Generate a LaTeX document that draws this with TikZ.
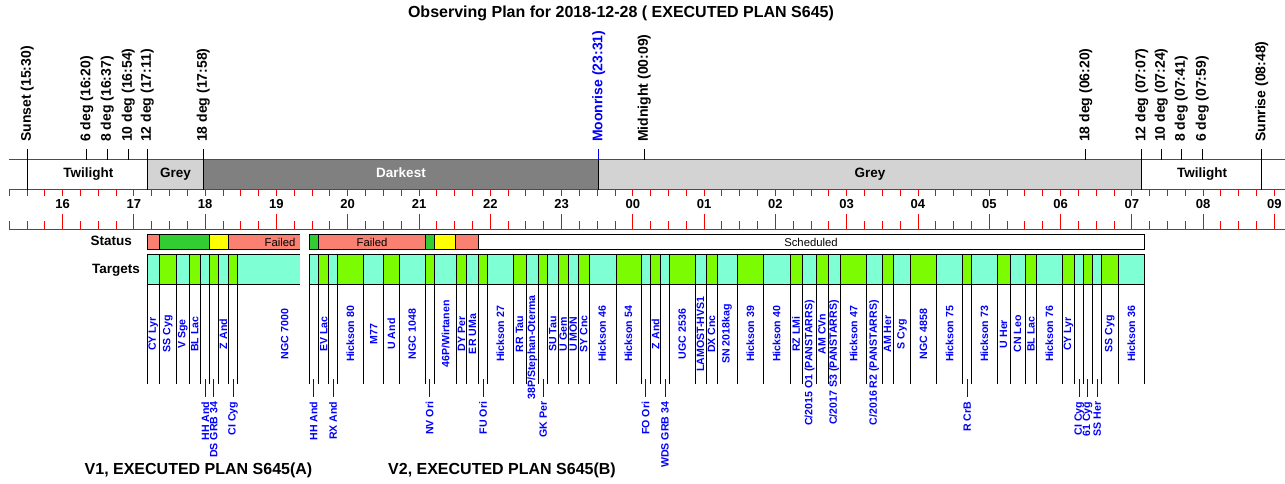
\documentclass[tikz,border=0pt]{standalone}
\usepackage{fontspec}
\setmainfont{Liberation Sans}
\definecolor{salm}{HTML}{FA8072}
\definecolor{lgr}{HTML}{32CD32}
\definecolor{yel}{HTML}{FFFF00}
\definecolor{aq}{HTML}{7FFFD4}
\definecolor{gr}{HTML}{7CFC00}
\definecolor{lgrey}{HTML}{D3D3D3}
\definecolor{dgrey}{HTML}{808080}
\begin{document}
\begin{tikzpicture}[x=1pt,y=-1pt,
  redl/.style={red, line width=0.9pt},
  blk/.style={black, line width=0.9pt},
  lead/.style={blue, line width=0.9pt},
  titlef/.style={inner sep=0pt, font=\bfseries\fontsize{16}{18}\selectfont},
  evt/.style={rotate=90, anchor=west, inner sep=0pt, font=\bfseries\fontsize{14}{15}\selectfont},
  bandlab/.style={inner sep=0pt, anchor=base, font=\bfseries\fontsize{13.5}{14}\selectfont},
  hourlab/.style={inner sep=0pt, anchor=base, font=\bfseries\fontsize{13}{14}\selectfont},
  rowlab/.style={inner sep=0pt, anchor=base east, font=\bfseries\fontsize{13.5}{14}\selectfont},
  stlab/.style={inner sep=0pt, anchor=base, font=\fontsize{11.3}{12}\selectfont},
  tgu/.style={rotate=90, inner sep=0pt, text=blue, font=\bfseries\fontsize{10.6}{11}\selectfont},
  tgl/.style={tgu, anchor=east}
]
\useasboundingbox (0,0) rectangle (1285,483);

% title
\node[titlef, anchor=base] (title) at (621,17.5) {Observing Plan for 2018-12-28 ( EXECUTED PLAN S645)};

% bands
\fill[lgrey] (147.3,159.5) rectangle (203.3,189.5);
\fill[dgrey] (203.3,159.5) rectangle (598.7,189.5);
\fill[lgrey] (598.7,159.5) rectangle (1141.7,189.5);
\node[bandlab] (tw1) at (88.3,177.7) {Twilight};
\node[bandlab] (gr1) at (175.5,177.7) {Grey};
\node[bandlab, text=white] (dk) at (401,177.7) {Darkest};
\node[bandlab] (gr2) at (870,177.7) {Grey};
\node[bandlab] (tw2) at (1202,177.7) {Twilight};

% ticks
\foreach \k in {0,...,71}{
  \pgfmathsetmacro{\xx}{62.6+71.28*(\k*0.25-0.75)}
  \pgfmathsetmacro{\yy}{ifthenelse(mod(\k,4)==3,214,221)}
  \draw[redl] (\xx,189.5) -- (\xx,195.5);
  \draw[redl] (\xx,229.5) -- (\xx,\yy);
}
\draw[redl] (9,159.5) -- (1285,159.5) (9,189.5) -- (1285,189.5) (9,229.5) -- (1285,229.5);

% hour labels
\foreach \h [count=\i from 0] in {16,17,18,19,20,21,22,23,00,01,02,03,04,05,06,07,08,09}
  \node[hourlab] (hr\i) at ({62.6+71.28*\i},208.3) {\h};

% events
\foreach \x/\ye/\txt [count=\i] in {27.3/189.5/{Sunset (15:30)}, 86.7/159.5/{6 deg (16:20)},
  107.3/159.5/{8 deg (16:37)}, 128.3/159.5/{10 deg (16:54)}, 147.3/189.5/{12 deg (17:11)},
  203.3/189.5/{18 deg (17:58)}, 644.3/159.5/{Midnight (00:09)}, 1085.7/159.5/{18 deg (06:20)},
  1141.7/189.5/{12 deg (07:07)}, 1161.3/159.5/{10 deg (07:24)}, 1181.3/159.5/{8 deg (07:41)},
  1202.3/159.5/{6 deg (07:59)}, 1261.7/189.5/{Sunrise (08:48)}}{
  \node[evt] (ev\i) at (\x,142) {\txt};
  \coordinate (eb\i) at (\x,\ye);
  \draw[blk] ([yshift=-7pt]ev\i.west) -- (eb\i);
}
\node[evt, text=blue] (moon) at (598.7,142) {Moonrise (23:31)};
\coordinate (mb) at (598.7,159.5);
\coordinate (mbb) at (598.7,189.5);
\draw[lead] ([yshift=-7pt]moon.west) -- (mb);
\draw[blk] (mb) -- (mbb);

% status row
\node[rowlab] (status) at (132,245) {Status};
\foreach \a/\b/\c in {147.3/159.3/salm, 159.3/209.3/lgr, 209.3/228.3/yel, 228.3/300/salm,
  309.3/318.7/lgr, 318.7/425.3/salm, 425.3/434.7/lgr, 434.7/455.3/yel, 455.3/478.7/salm,
  478.7/1144.3/white}{
  \fill[\c] (\a,234.3) rectangle (\b,249.3);
  \draw[blk] (\a,234.3) -- (\a,249.3);
}
\draw[blk] (147.3,234.3) -- (300,234.3) (147.3,249.3) -- (300,249.3);
\draw[blk] (309.3,234.3) -- (1144.3,234.3) -- (1144.3,249.3) -- (309.3,249.3);
\node[stlab] (f1) at (280,246) {Failed};
\node[stlab] (f2) at (372,246) {Failed};
\node[stlab] (sch) at (811,246) {Scheduled};

% targets row
\node[rowlab] (targets) at (140,273.3) {Targets};
\foreach \a/\b/\c in {147.3/159.3/aq, 159.3/176.3/gr, 176.3/189.3/aq, 189.3/200.3/gr,
  200.3/209.3/aq, 209.3/218.3/gr, 218.3/228.3/aq, 228.3/237.3/gr, 237.3/300/aq,
  309.3/318.7/aq, 318.7/328.7/gr, 328.7/337.3/aq, 337.3/363.3/gr, 363.3/383.3/aq,
  383.3/399.3/gr, 399.3/425.3/aq, 425.3/434.7/gr, 434.7/456/aq, 456/466.7/gr,
  466.7/478.7/aq, 478.7/487.3/gr, 487.3/513.7/aq, 513.7/526.7/gr, 526.7/538.7/aq,
  538.7/547.3/gr, 547.3/558.7/aq, 558.7/568.7/gr, 568.7/578.7/aq, 578.7/589.3/gr,
  589.3/616/aq, 616/641.7/gr, 641.7/650.7/aq, 650.7/660.7/gr, 660.7/669.3/aq,
  669.3/695.7/gr, 695.7/706/aq, 706/717.3/gr, 717.3/737.3/aq, 737.3/763.7/gr,
  763.7/790/aq, 790/802.7/gr, 802.7/816.7/aq, 816.7/828/gr, 828/840.7/aq,
  840.7/866.7/gr, 866.7/882/aq, 882/893.3/gr, 893.3/910.7/aq, 910.7/936.3/gr,
  936.3/962.7/aq, 962.7/971.3/gr, 971.3/997.3/aq, 997.3/1010/gr, 1010/1025.3/aq,
  1025.3/1036.3/gr, 1036.3/1062.3/aq, 1062.3/1074.7/gr, 1074.7/1083.3/aq,
  1083.3/1092.3/gr, 1092.3/1101.3/aq, 1101.3/1118.3/gr, 1118.3/1144.3/aq}{
  \fill[\c] (\a,254.3) rectangle (\b,284.3);
  \draw[blk] (\a,254.3) -- (\a,384.3);
}
\draw[blk] (1144.3,254.3) -- (1144.3,384.3);
\draw[blk] (147.3,254.3) -- (300,254.3) (147.3,284.3) -- (300,284.3);
\draw[blk] (309.3,254.3) -- (1144.3,254.3) (309.3,284.3) -- (1144.3,284.3);

% target labels, centred
\foreach \x/\txt [count=\i] in {153.3/{CY Lyr}, 167.8/{SS Cyg}, 182.8/{V Sge}, 194.8/{BL Lac},
  223.3/{Z And}, 284.7/{NGC 7000}, 323.7/{EV Lac}, 350.3/{Hickson 80}, 373.8/{M77},
  391.3/{U And}, 412.3/{NGC 1048}, 445.7/{46P/Wirtanen}, 461.5/{DY Per}, 472.5/{ER UMa},
  500.3/{Hickson 27}, 519.5/{RR Tau}, 552.8/{SU Tau}, 563.2/{U Gem}, 573.2/{U MON},
  583.8/{SY Cnc}, 602.2/{Hickson 46}, 628.3/{Hickson 54}, 655.5/{Z And}, 682.3/{UGC 2536},
  700.5/{LAMOST-HVS1}, 711.5/{DX Cnc}, 727/{SN 2018kag}, 750.3/{Hickson 39},
  776.5/{Hickson 40}, 796/{RZ LMi}, 822/{AM CVn}, 853.5/{Hickson 47}, 887.5/{AM Her},
  902/{S Cyg}, 923.5/{NGC 4858}, 949.5/{Hickson 75}, 984.3/{Hickson 73}, 1003.5/{U Her},
  1017.5/{CN Leo}, 1031/{BL Lac}, 1049.3/{Hickson 76}, 1068.5/{CY Lyr}, 1109.8/{SS Cyg},
  1131.3/{Hickson 36}}{
  \node[tgu] (tu\i) at (\x,334) {\txt};
}
% target labels, long ones
\foreach \x/\y/\txt [count=\i] in {532.5/295/{38P/Stephan-Oterma},
  809.5/300/{C/2015 O1 (PANSTARRS)}, 834.2/300/{C/2017 S3 (PANSTARRS)},
  874/300/{C/2016 R2 (PANSTARRS)}}{
  \node[tgu, anchor=east] (tt\i) at (\x,\y) {\txt};
}
% target labels, below with leaders
\foreach \x/\txt [count=\i] in {205.3/{HH And}, 213.8/{DS GRB 34}, 233/{CI Cyg},
  313.5/{HH And}, 333.2/{RX And}, 429.7/{NV Ori}, 483.2/{FU Ori}, 543.2/{GK Per},
  645.5/{FO Ori}, 665/{WDS GRB 34}, 967.2/{R CrB}, 1079.3/{CI Cyg}, 1087.5/{61 Cyg},
  1097.3/{SS Her}}{
  \node[tgl] (tl\i) at (\x,401.5) {\txt};
  \coordinate (ld\i) at (\x,379.3);
  \draw[lead] (ld\i) -- ([yshift=5pt]tl\i.east);
}

% bottom captions
\node[titlef, anchor=base] (v1) at (198.5,474) {V1, EXECUTED PLAN S645(A)};
\node[titlef, anchor=base] (v2) at (502,474) {V2, EXECUTED PLAN S645(B)};
\end{tikzpicture}
\end{document}
